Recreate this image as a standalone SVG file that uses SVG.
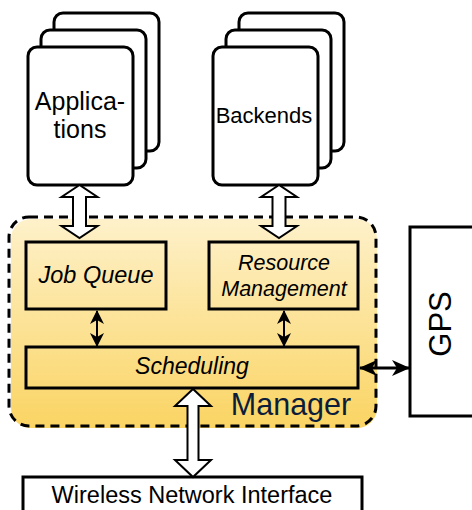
<svg xmlns="http://www.w3.org/2000/svg" width="472" height="510" viewBox="0 0 472 510">
<style>
.card{fill:#fff;stroke:#000;stroke-width:3}
.box{fill:none;stroke:#000;stroke-width:3}
.wbox{fill:#fff;stroke:#000;stroke-width:3}
.hollow{fill:#fff;stroke:#000;stroke-width:2;stroke-linejoin:miter}
.dbl{stroke:#000;stroke-width:2;fill:none}
.dbl3{stroke:#000;stroke-width:3;fill:none}
.t{font-family:"Liberation Sans",Arial,sans-serif;fill:#000;text-anchor:middle}
.it{font-style:italic}
</style>
<defs>
<linearGradient id="mgrad" x1="0" y1="0" x2="0" y2="1">
<stop offset="0" stop-color="#FEF1CA"/>
<stop offset="1" stop-color="#FAD463"/>
</linearGradient>
<marker id="ah" viewBox="0 0 14 14" refX="13" refY="7" markerWidth="14" markerHeight="14" markerUnits="userSpaceOnUse" orient="auto-start-reverse">
<path d="M0,0 L14,7 L0,14 L4,7 z" fill="#000"/>
</marker>
<marker id="ahL" viewBox="0 0 18 16" refX="17" refY="8" markerWidth="18" markerHeight="16" markerUnits="userSpaceOnUse" orient="auto-start-reverse">
<path d="M0,0 L18,8 L0,16 L5,8 z" fill="#000"/>
</marker>
</defs>

<g id="manager">
<rect x="11" y="219" width="366" height="209" rx="20" fill="url(#mgrad)"/>
<rect x="9" y="217" width="367" height="209" rx="20" fill="none" stroke="#000" stroke-width="3" stroke-dasharray="9,6"/>
<text class="t" x="291" y="415" font-size="30.5" style="fill:#0B1D3A">Manager</text>
</g>

<g id="applications">
<rect class="card" x="54" y="13" width="105" height="138" rx="9"/>
<rect class="card" x="41" y="30" width="105" height="138" rx="9"/>
<rect class="card" x="28" y="47" width="105" height="138" rx="9"/>
<text class="t" x="80" y="110" font-size="25">Applica-</text>
<text class="t" x="80" y="138" font-size="25">tions</text>
</g>

<g id="backends">
<rect class="card" x="239" y="13" width="105" height="138" rx="9"/>
<rect class="card" x="226" y="30" width="105" height="138" rx="9"/>
<rect class="card" x="213" y="47" width="105" height="138" rx="9"/>
<text class="t" x="264" y="123" font-size="22">Backends</text>
</g>

<g id="job-queue">
<rect class="box" x="26" y="242" width="140" height="67"/>
<text class="t it" x="96" y="283" font-size="23.5">Job Queue</text>
</g>

<g id="resource-management">
<rect class="box" x="209" y="242" width="149" height="67"/>
<text class="t it" x="284" y="270" font-size="21.5">Resource</text>
<text class="t it" x="284" y="296" font-size="21.5">Management</text>
</g>

<g id="scheduling">
<rect class="box" x="26" y="347" width="332" height="41"/>
<text class="t it" x="192" y="374" font-size="23">Scheduling</text>
</g>

<g id="gps">
<rect class="wbox" x="410" y="227" width="70" height="189"/>
<text class="t" transform="translate(451,324) rotate(-90)" font-size="31">GPS</text>
</g>

<g id="wireless">
<rect class="wbox" x="23" y="477" width="339" height="40"/>
<text class="t" x="192" y="503" font-size="23.5">Wireless Network Interface</text>
</g>

<g id="connectors">
<polygon class="hollow" points="79.5,185 61.5,197 73,197 73,226 61.5,226 79.5,238 97.5,226 86,226 86,197 97.5,197"/>
<polygon class="hollow" points="279,185 261,197 272.5,197 272.5,226 261,226 279,238 297,226 285.5,226 285.5,197 297,197"/>
<polygon class="hollow" points="193,389 175,406 187.5,406 187.5,460 175,460 193,477 211,460 198.5,460 198.5,406 211,406"/>
<line class="dbl" x1="97" y1="311" x2="97" y2="346" marker-start="url(#ah)" marker-end="url(#ah)"/>
<line class="dbl" x1="284" y1="311" x2="284" y2="346" marker-start="url(#ah)" marker-end="url(#ah)"/>
<line class="dbl3" x1="360" y1="368" x2="409" y2="368" marker-start="url(#ahL)" marker-end="url(#ahL)"/>
</g>
</svg>
